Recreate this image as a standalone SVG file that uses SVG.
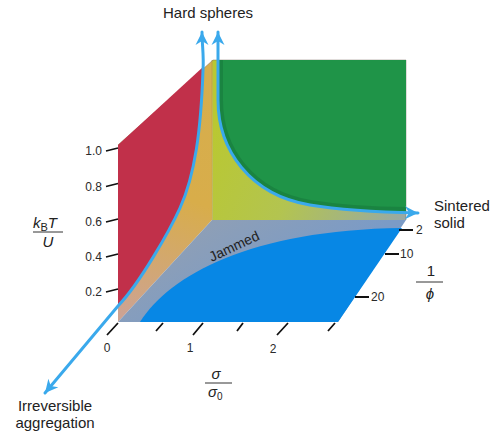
<svg xmlns="http://www.w3.org/2000/svg" width="494" height="432" viewBox="0 0 494 432">
<style>
.t{font-family:"Liberation Sans",Arial,sans-serif;fill:#222}
.num{font-size:12px;fill:#2a2a2a}
.lbl{font-size:15px}
.it{font-style:italic}
.tick{stroke:#111;stroke-width:1.8;fill:none}
.flow{fill:none;stroke:#3aa9ec;stroke-width:3;stroke-linecap:round}
.frac{stroke:#333;stroke-width:1}
</style>
<defs>
<marker id="ah" viewBox="-14 -7 15 14" refX="0" refY="0" markerWidth="15" markerHeight="14" markerUnits="userSpaceOnUse" orient="auto-start-reverse">
<path d="M0,0 L-13,-6.5 L-9,0 L-13,6.5 Z" fill="#3aa9ec"/>
</marker>
<linearGradient id="gLeft" x1="213" y1="70" x2="125" y2="315" gradientUnits="userSpaceOnUse">
<stop offset="0" stop-color="#d6ae4e"/>
<stop offset="0.5" stop-color="#d8ad4a"/>
<stop offset="1" stop-color="#cda392"/>
</linearGradient>
<linearGradient id="gBack" x1="213" y1="130" x2="406" y2="220" gradientUnits="userSpaceOnUse">
<stop offset="0" stop-color="#b9c832"/>
<stop offset="0.45" stop-color="#b3c450"/>
<stop offset="1" stop-color="#98a8a6"/>
</linearGradient>
<linearGradient id="gFloor" x1="212" y1="220" x2="260" y2="300" gradientUnits="userSpaceOnUse">
<stop offset="0" stop-color="#8e9fb6"/>
<stop offset="1" stop-color="#7b9bc6"/>
</linearGradient>
<clipPath id="greenClip">
<path d="M218,60 L218,100 C218,150 250,195 310,205 C340,210 370,212 406,212 L406,60 Z"/>
</clipPath>
</defs>

<g id="box">
<path id="left-face" d="M118,322 L118,145 L213,60 L212,220 Z" fill="url(#gLeft)"/>
<rect id="back-face" x="212.5" y="60" width="193.5" height="160" fill="url(#gBack)"/>
<path id="floor" d="M118,322 L212,220 L406,220 L338,322 Z" fill="url(#gFloor)"/>
<path d="M212,60 L212.5,220" stroke="#a8a040" stroke-width="1" opacity="0.6"/>
<path d="M118,145 L213,60 L406,60 L406,220" fill="none" stroke="#7a6a60" stroke-width="0.8" opacity="0.6"/>
</g>

<g id="red-region">
<path d="M118,145 L203,67 C201,130 195,175 180,208 C170,230 140,283 118,306 Z" fill="#c1304a"/>
</g>

<g id="green-region">
<path d="M218,60 L218,100 C218,150 250,195 310,205 C340,210 370,212 406,212 L406,60 Z" fill="#1f9448"/>
<path d="M218,60 L218,100 C218,150 250,195 310,205 C340,210 370,212 406,212" fill="none" stroke="#15703a" stroke-width="10" opacity="0.45" clip-path="url(#greenClip)"/>
</g>

<g id="blue-region">
<path d="M140,322 C170,275 250,230 402,228 L338,322 Z" fill="#0787e5"/>
</g>

<g id="jammed-label">
<text class="t" x="234" y="251" font-size="14" fill="#2b3440" text-anchor="middle" transform="rotate(-25 234 246)">Jammed</text>
</g>

<g id="connectors">
<path class="flow" d="M202,32 C202,45 204,55 203,70 C201,130 195,175 180,208 C170,230 140,283 118,306 L45,393" marker-start="url(#ah)" marker-end="url(#ah)"/>
<path class="flow" d="M218,32 L218,100 C218,150 250,195 310,205 C340,210 370,212 418,213" marker-start="url(#ah)" marker-end="url(#ah)"/>
</g>

<g id="axis-kT">
<path class="tick" d="M106,151 L118,148 M106,186.5 L118,183.5 M106,222 L118,219 M106,257 L118,254 M106,292 L118,289"/>
<text class="t num" x="102" y="155" text-anchor="end">1.0</text>
<text class="t num" x="102" y="190.5" text-anchor="end">0.8</text>
<text class="t num" x="102" y="226" text-anchor="end">0.6</text>
<text class="t num" x="102" y="261" text-anchor="end">0.4</text>
<text class="t num" x="102" y="296" text-anchor="end">0.2</text>
<text class="t lbl" x="33" y="228"><tspan class="it">k</tspan><tspan font-size="11" dy="3">B</tspan><tspan class="it" dy="-3">T</tspan></text>
<line class="frac" x1="33" y1="232" x2="63" y2="232"/>
<text class="t lbl it" x="48" y="247" text-anchor="middle">U</text>
</g>

<g id="axis-sigma">
<path class="tick" d="M107,335 L118,323 M156,331 L163,323 M193,335 L203,323 M237,331 L243,323 M277,335 L288,323 M328,331 L335,323"/>
<text class="t num" x="107" y="352" text-anchor="middle">0</text>
<text class="t num" x="190" y="352" text-anchor="middle">1</text>
<text class="t num" x="273" y="353" text-anchor="middle">2</text>
<text class="t lbl it" x="216" y="379" text-anchor="middle">σ</text>
<line class="frac" x1="205" y1="383" x2="232" y2="383"/>
<text class="t lbl" x="208" y="397"><tspan class="it">σ</tspan><tspan font-size="10" dy="3">0</tspan></text>
</g>

<g id="axis-phi">
<path class="tick" d="M399,230 L413,230 M385,254 L399,254 M355,297 L369,297"/>
<text class="t num" x="416" y="234">2</text>
<text class="t num" x="400" y="258">10</text>
<text class="t num" x="371" y="301">20</text>
<text class="t lbl" x="431" y="276" text-anchor="middle">1</text>
<line class="frac" x1="416" y1="282" x2="443" y2="282"/>
<text class="t lbl it" x="430" y="299" text-anchor="middle">ϕ</text>
</g>

<g id="labels">
<text class="t lbl" x="163" y="18">Hard spheres</text>
<text class="t lbl" x="434" y="211">Sintered</text>
<text class="t lbl" x="434" y="228">solid</text>
<text class="t lbl" x="55" y="411" text-anchor="middle">Irreversible</text>
<text class="t lbl" x="55" y="428" text-anchor="middle">aggregation</text>
</g>
</svg>
